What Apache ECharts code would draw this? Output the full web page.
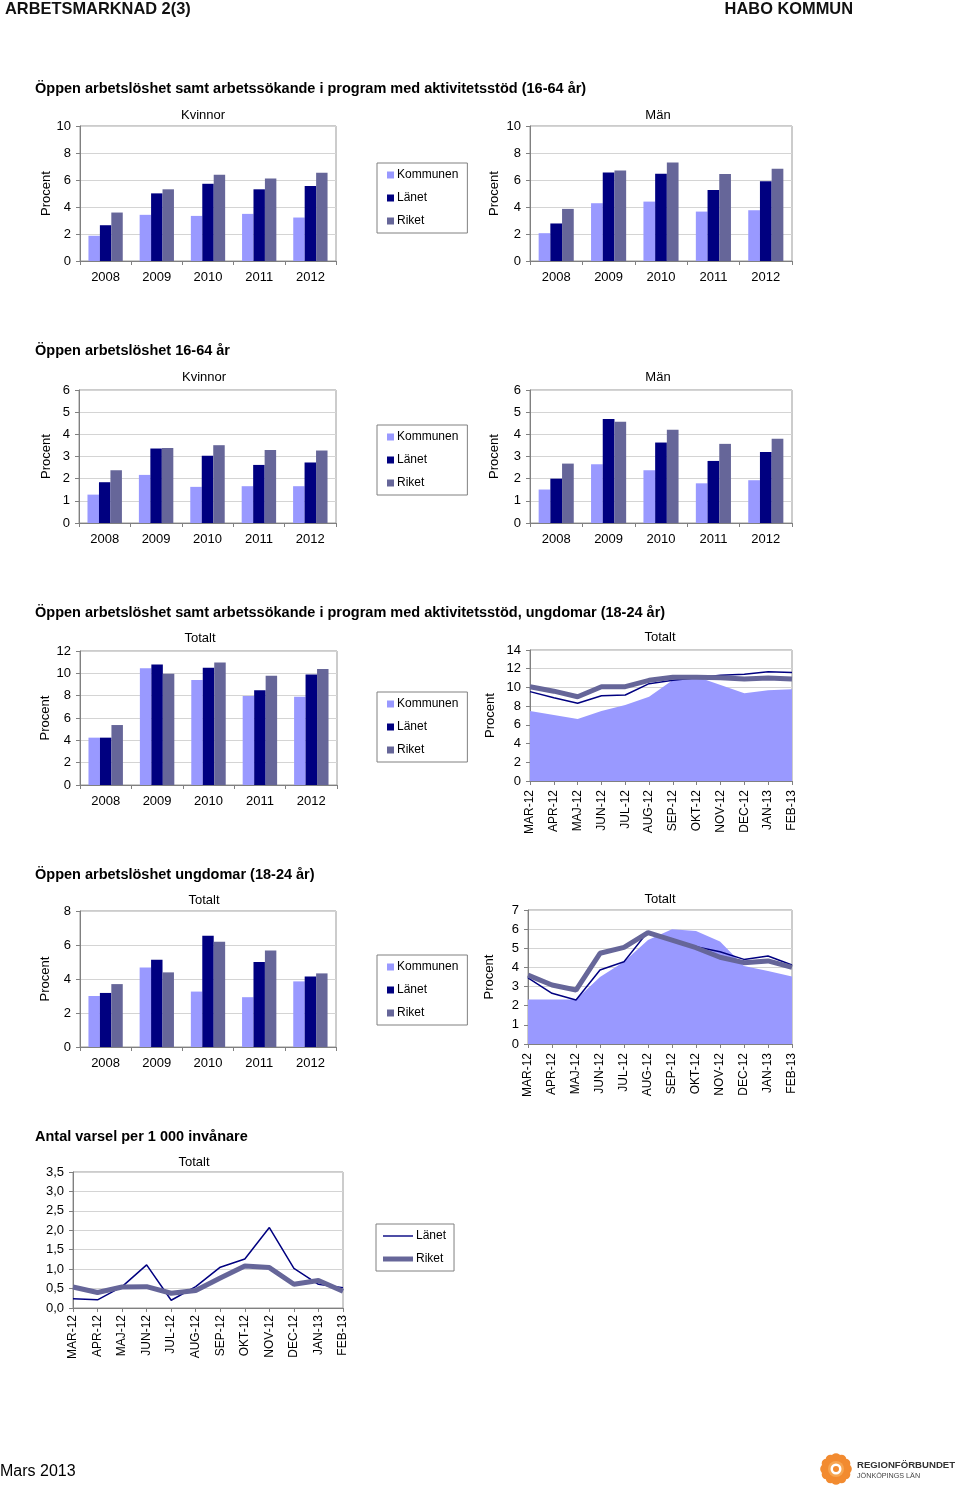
<!DOCTYPE html>
<html><head><meta charset="utf-8">
<script src="https://cdn.jsdelivr.net/npm/echarts@6/dist/echarts.min.js"></script>
<style>html,body{margin:0;padding:0;background:#fff}#c{width:960px;height:1488px}</style>
</head><body><div id="c"></div><script>
const years = ['2008','2009','2010','2011','2012'];
const months = ['MAR-12','APR-12','MAJ-12','JUN-12','JUL-12','AUG-12','SEP-12','OKT-12','NOV-12','DEC-12','JAN-13','FEB-13'];

// Öppen arbetslöshet samt program 16-64 år
const akK_kommun = [1.87,3.42,3.34,3.49,3.22];
const akK_lanet  = [2.65,5.01,5.72,5.31,5.55];
const akK_riket  = [3.59,5.31,6.39,6.12,6.54];
const akM_kommun = [2.06,4.28,4.40,3.66,3.76];
const akM_lanet  = [2.78,6.56,6.46,5.26,5.90];
const akM_riket  = [3.86,6.71,7.30,6.44,6.83];
// Öppen arbetslöshet 16-64 år
const oaK_kommun = [1.28,2.17,1.63,1.66,1.66];
const oaK_lanet  = [1.84,3.36,3.03,2.62,2.73];
const oaK_riket  = [2.38,3.38,3.51,3.29,3.27];
const oaM_kommun = [1.51,2.65,2.38,1.79,1.93];
const oaM_lanet  = [2.00,4.69,3.63,2.80,3.20];
const oaM_riket  = [2.68,4.57,4.21,3.57,3.80];
// Ungdomar, öppen arbetslöshet + program
const uaY_kommun = [4.24,10.45,9.40,7.97,7.90];
const uaY_lanet  = [4.24,10.80,10.50,8.48,9.90];
const uaY_riket  = [5.37,9.97,10.98,9.79,10.39];
const uaM_kommun = [7.48,7.05,6.63,7.48,8.12,9.00,10.80,11.15,10.26,9.37,9.69,9.80];
const uaM_lanet  = [9.55,8.90,8.30,9.12,9.19,10.40,10.76,11.04,11.29,11.40,11.68,11.60];
const uaM_riket  = [10.08,9.60,9.00,10.08,10.08,10.76,11.08,11.10,11.04,10.90,11.00,10.90];
// Ungdomar, öppen arbetslöshet
const uoY_kommun = [3.00,4.68,3.26,2.93,3.86];
const uoY_lanet  = [3.18,5.13,6.54,5.00,4.14];
const uoY_riket  = [3.70,4.39,6.19,5.68,4.33];
const uoM_kommun = [2.33,2.33,2.33,3.50,4.30,5.43,6.00,5.90,5.35,4.07,3.81,3.52];
const uoM_lanet  = [3.45,2.65,2.30,3.87,4.30,5.87,5.47,5.08,4.82,4.42,4.60,4.13];
const uoM_riket  = [3.60,3.08,2.82,4.74,5.05,5.82,5.43,5.03,4.53,4.25,4.34,4.00];
// Varsel per 1000 invånare
const va_lanet = [0.24,0.21,0.55,1.11,0.20,0.55,1.05,1.26,2.07,1.02,0.61,0.52];
const va_riket = [0.54,0.40,0.54,0.55,0.38,0.45,0.77,1.08,1.04,0.61,0.71,0.43];

const FONT = "'Liberation Sans', Arial, Helvetica, sans-serif";
const C_KOM = '#9999FF', C_LAN = '#000080', C_RIK = '#666699';
const AX = '#808080', GRIDC = '#d4d4d4';

const grids = [
  {left:80, top:126, width:256, height:135},
  {left:530, top:126, width:262, height:135},
  {left:79, top:390, width:257, height:133},
  {left:530, top:390, width:262, height:133},
  {left:80, top:651, width:257, height:134},
  {left:530, top:650, width:262, height:131},
  {left:80, top:911, width:256, height:136},
  {left:528, top:910, width:264, height:134},
  {left:73, top:1172, width:270, height:136}
].map(g => Object.assign({show:true, borderColor:'#999', borderWidth:1, backgroundColor:'#fff'}, g));

function catBar(gi, margin){
  return {gridIndex:gi, type:'category', data:years,
    axisLine:{lineStyle:{color:AX}}, axisTick:{show:true, length:4, lineStyle:{color:AX}},
    axisLabel:{fontSize:13, color:'#000', margin:margin, fontFamily:FONT}};
}
function catLine(gi, margin){
  return {gridIndex:gi, type:'category', data:months, boundaryGap:false,
    axisLine:{lineStyle:{color:AX}}, axisTick:{show:true, length:4, lineStyle:{color:AX}},
    axisLabel:{fontSize:12, color:'#000', margin:margin, rotate:90, interval:0, fontFamily:FONT}};
}
function val(gi, max, interval, gap, fmt){
  const y = {gridIndex:gi, type:'value', min:0, max:max, interval:interval,
    axisLine:{show:true, lineStyle:{color:AX}}, axisTick:{show:true, length:4, lineStyle:{color:AX}},
    axisLabel:{fontSize:13, color:'#000', margin:9, fontFamily:FONT},
    splitLine:{show:true, lineStyle:{color:GRIDC}}};
  if (gap !== null) {
    y.name = 'Procent'; y.nameLocation = 'middle'; y.nameRotate = 90; y.nameGap = gap;
    y.nameTextStyle = {fontSize:13, color:'#000', fontFamily:FONT};
  }
  if (fmt) y.axisLabel.formatter = fmt;
  return y;
}
function bars(gi, k, l, r){
  const base = {type:'bar', xAxisIndex:gi, yAxisIndex:gi, barGap:'0%', barCategoryGap:'33%', animation:false};
  return [
    Object.assign({name:'Kommunen', data:k, itemStyle:{color:C_KOM}}, base),
    Object.assign({name:'Länet', data:l, itemStyle:{color:C_LAN}}, base),
    Object.assign({name:'Riket', data:r, itemStyle:{color:C_RIK}}, base)
  ];
}
function lines(gi, k, l, r){
  const base = {type:'line', xAxisIndex:gi, yAxisIndex:gi, symbol:'none', animation:false};
  return [
    Object.assign({name:'Kommunen', data:k, itemStyle:{color:C_KOM}, lineStyle:{width:0}, areaStyle:{color:C_KOM, opacity:1}}, base),
    Object.assign({name:'Länet', data:l, itemStyle:{color:C_LAN}, lineStyle:{width:1.5, color:C_LAN}}, base),
    Object.assign({name:'Riket', data:r, itemStyle:{color:C_RIK}, lineStyle:{width:5, color:C_RIK}}, base)
  ];
}
function barLegend(top){
  return {left:377, top:top, orient:'vertical', icon:'rect', itemWidth:7, itemHeight:7, itemGap:9,
    padding:[5,9,5,10], borderColor:AX, borderWidth:1, backgroundColor:'#fff', selectedMode:false,
    data:['Kommunen','Länet','Riket'],
    textStyle:{fontSize:12, color:'#000', fontFamily:FONT, lineHeight:14, padding:[0,0,0,-2]}};
}

const xAxes = [catBar(0,10), catBar(1,10), catBar(2,10), catBar(3,10), catBar(4,10), catLine(5,9), catBar(6,10), catLine(7,9), catLine(8,7)];
const commaFmt = v => v.toFixed(1).replace('.', ',');
const yAxes = [
  val(0, 10, 2, 27), val(1, 10, 2, 29),
  val(2, 6, 1, 26), val(3, 6, 1, 29),
  val(4, 12, 2, 28), val(5, 14, 2, 33),
  val(6, 8, 2, 28), val(7, 7, 1, 32),
  val(8, 3.5, 0.5, null, commaFmt)
];

const series = [].concat(
  bars(0, akK_kommun, akK_lanet, akK_riket),
  bars(1, akM_kommun, akM_lanet, akM_riket),
  bars(2, oaK_kommun, oaK_lanet, oaK_riket),
  bars(3, oaM_kommun, oaM_lanet, oaM_riket),
  bars(4, uaY_kommun, uaY_lanet, uaY_riket),
  bars(6, uoY_kommun, uoY_lanet, uoY_riket),
  lines(5, uaM_kommun, uaM_lanet, uaM_riket),
  lines(7, uoM_kommun, uoM_lanet, uoM_riket),
  [
    {name:'Länet (varsel)', type:'line', xAxisIndex:8, yAxisIndex:8, symbol:'none', animation:false, data:va_lanet, itemStyle:{color:C_LAN}, lineStyle:{width:1.5, color:C_LAN}},
    {name:'Riket (varsel)', type:'line', xAxisIndex:8, yAxisIndex:8, symbol:'none', animation:false, data:va_riket, itemStyle:{color:C_RIK}, lineStyle:{width:5, color:C_RIK}}
  ]
);

const legends = [
  barLegend(163), barLegend(425), barLegend(692), barLegend(955),
  {left:376, top:1224, orient:'vertical', itemWidth:30, itemHeight:10, itemGap:9,
   padding:[5,8,5,7], borderColor:AX, borderWidth:1, backgroundColor:'#fff', selectedMode:false,
   formatter: n => n.replace(' (varsel)', ''),
   data:[
     {name:'Länet (varsel)', icon:'path://M0,0M30,10M0,4.3L30,4.3L30,5.7L0,5.7Z'},
     {name:'Riket (varsel)', icon:'path://M0,0M30,10M0,2.5L30,2.5L30,7.5L0,7.5Z'}
   ],
   textStyle:{fontSize:12, color:'#000', fontFamily:FONT, lineHeight:14, padding:[0,0,0,-2]}}
];

function txt(text, x, y, size, opts){
  opts = opts || {};
  const align = opts.align || 'left';
  return {type:'text', x:x, y:y, silent:true, style:{text:text, fill:opts.color || '#000',
    font:(opts.bold ? 'bold ' : '') + size + 'px ' + FONT,
    textAlign:align, align:align, textVerticalAlign:'middle', verticalAlign:'middle'}};
}

const graphics = [
  txt('ARBETSMARKNAD 2(3)', 5, 9, 16.4, {bold:true, color:'#111'}),
  txt('HABO KOMMUN', 853, 9, 16.4, {bold:true, color:'#111', align:'right'}),
  txt('Öppen arbetslöshet samt arbetssökande i program med aktivitetsstöd (16-64 år)', 35, 89, 14.5, {bold:true}),
  txt('Öppen arbetslöshet 16-64 år', 35, 351, 14.5, {bold:true}),
  txt('Öppen arbetslöshet samt arbetssökande i program med aktivitetsstöd, ungdomar (18-24 år)', 35, 613, 14.5, {bold:true}),
  txt('Öppen arbetslöshet ungdomar (18-24 år)', 35, 875, 14.5, {bold:true}),
  txt('Antal varsel per 1 000 invånare', 35, 1137, 14.5, {bold:true}),
  txt('Kvinnor', 203, 115, 13, {align:'center'}),
  txt('Män', 658, 115, 13, {align:'center'}),
  txt('Kvinnor', 204, 377, 13, {align:'center'}),
  txt('Män', 658, 377, 13, {align:'center'}),
  txt('Totalt', 200, 638, 13, {align:'center'}),
  txt('Totalt', 660, 637, 13, {align:'center'}),
  txt('Totalt', 204, 900, 13, {align:'center'}),
  txt('Totalt', 660, 899, 13, {align:'center'}),
  txt('Totalt', 194, 1162, 13, {align:'center'}),
  txt('Mars 2013', 0, 1472, 16),
  txt('REGIONFÖRBUNDET', 857, 1465, 9.6, {bold:true, color:'#333'}),
  txt('JÖNKÖPINGS LÄN', 857, 1476, 7.2, {color:'#444'})
];
// logo flower
const petals = [];
for (let i = 0; i < 12; i++) {
  const a = i * Math.PI / 6 - Math.PI / 2;
  petals.push({type:'circle', silent:true, shape:{cx:836 + Math.cos(a) * 11, cy:1469 + Math.sin(a) * 11, r:4.8}, style:{fill:'#F28B30'}});
}
petals.push({type:'circle', silent:true, shape:{cx:836, cy:1469, r:8}, style:{fill:'#F7A550'}});
petals.push({type:'circle', silent:true, shape:{cx:836, cy:1469, r:5.5}, style:{fill:'#fff'}});
petals.push({type:'circle', silent:true, shape:{cx:836, cy:1469, r:3}, style:{fill:'#F28B30'}});

const chart = echarts.init(document.getElementById('c'), null, {renderer:'canvas', width:960, height:1488});
chart.setOption({
  backgroundColor:'#fff',
  animation:false,
  textStyle:{fontFamily:FONT},
  grid:grids, xAxis:xAxes, yAxis:yAxes, series:series, legend:legends,
  graphic:graphics.concat(petals)
});
</script></body></html>
